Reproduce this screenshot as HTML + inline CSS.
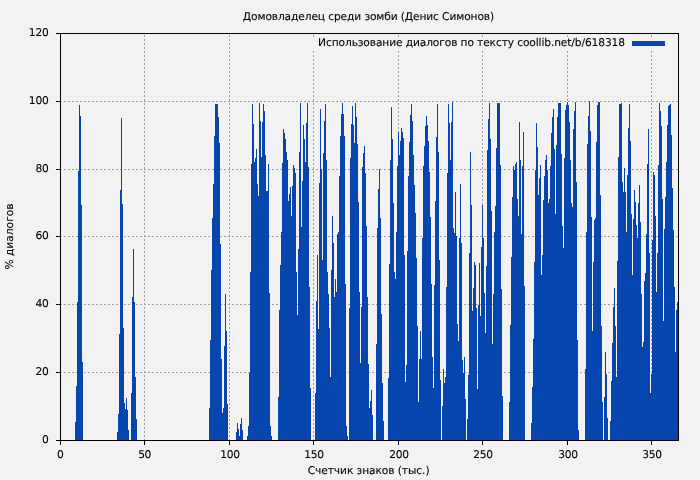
<!DOCTYPE html>
<html lang="ru"><head><meta charset="utf-8"><title>Домовладелец среди зомби (Денис Симонов)</title>
<style>
html,body{margin:0;padding:0;background:#f2f2f2;}
body{width:700px;height:480px;overflow:hidden;}
svg{display:block;}
text{font-family:"DejaVu Sans","Liberation Sans",sans-serif;font-size:10.67px;fill:#000;stroke:#000;stroke-width:0.1px;text-rendering:geometricPrecision;}
</style></head><body>
<svg width="700" height="480" viewBox="0 0 700 480">
<rect width="700" height="480" fill="#f2f2f2"/>
<g stroke="#a0a0a0" stroke-width="1" stroke-dasharray="2 2" fill="none" shape-rendering="crispEdges"><line x1="144.5" y1="441" x2="144.5" y2="34"/><line x1="229.5" y1="441" x2="229.5" y2="34"/><line x1="313.5" y1="441" x2="313.5" y2="34"/><line x1="398.5" y1="441" x2="398.5" y2="34"/><line x1="482.5" y1="441" x2="482.5" y2="34"/><line x1="567.5" y1="441" x2="567.5" y2="34"/><line x1="651.5" y1="441" x2="651.5" y2="34"/><line x1="60" y1="372.5" x2="678" y2="372.5"/><line x1="60" y1="304.5" x2="678" y2="304.5"/><line x1="60" y1="236.5" x2="678" y2="236.5"/><line x1="60" y1="169.5" x2="678" y2="169.5"/><line x1="60" y1="101.5" x2="678" y2="101.5"/></g>
<rect x="312" y="38" width="362" height="13" fill="#f2f2f2"/>
<path fill="#0645ad" shape-rendering="crispEdges" d="M75 440V422h1V440zM76 440V386h1V440zM77 440V302h1V440zM78 440V171h1V440zM79 440V105h1V440zM80 440V116h1V440zM81 440V205h1V440zM82 440V362h1V440zM117 440V432h1V440zM118 440V414h1V440zM119 440V334h1V440zM120 440V190h1V440zM121 440V118h1V440zM122 440V204h1V440zM123 440V328h1V440zM124 440V403h1V440zM125 440V409h1V440zM126 440V398h1V440zM127 440V410h1V440zM128 440V430h1V440zM131 440V393h1V440zM132 440V297h1V440zM133 440V249h1V440zM134 440V302h1V440zM135 440V377h1V440zM136 440V419h1V440zM209 440V408h1V440zM210 440V340h1V440zM211 440V270h1V440zM212 440V218h1V440zM213 440V184h1V440zM214 440V136h1V440zM215 440V104h1V440zM216 440V104h1V440zM217 440V104h1V440zM218 440V117h1V440zM219 440V143h1V440zM220 440V244h1V440zM221 440V359h1V440zM222 440V413h1V440zM223 440V408h1V440zM224 440V346h1V440zM225 440V294h1V440zM226 440V331h1V440zM227 440V404h1V440zM236 440V432h1V440zM237 440V423h1V440zM238 440V429h1V440zM239 440V436h1V440zM240 440V424h1V440zM241 440V418h1V440zM242 440V430h1V440zM247 440V436h1V440zM248 440V426h1V440zM249 440V373h1V440zM250 440V272h1V440zM251 440V164h1V440zM252 440V104h1V440zM253 440V124h1V440zM254 440V162h1V440zM255 440V158h1V440zM256 440V149h1V440zM257 440V184h1V440zM258 440V196h1V440zM259 440V103h1V440zM260 440V121h1V440zM261 440V157h1V440zM262 440V122h1V440zM263 440V104h1V440zM264 440V111h1V440zM265 440V155h1V440zM266 440V191h1V440zM267 440V191h1V440zM268 440V164h1V440zM269 440V293h1V440zM270 440V426h1V440zM271 440V436h1V440zM278 440V397h1V440zM279 440V310h1V440zM280 440V265h1V440zM281 440V232h1V440zM282 440V163h1V440zM283 440V129h1V440zM284 440V133h1V440zM285 440V139h1V440zM286 440V152h1V440zM287 440V160h1V440zM288 440V201h1V440zM289 440V194h1V440zM290 440V187h1V440zM291 440V216h1V440zM292 440V186h1V440zM293 440V165h1V440zM294 440V168h1V440zM295 440V173h1V440zM296 440V272h1V440zM297 440V315h1V440zM298 440V249h1V440zM299 440V152h1V440zM300 440V103h1V440zM301 440V227h1V440zM302 440V181h1V440zM303 440V125h1V440zM304 440V139h1V440zM305 440V162h1V440zM306 440V123h1V440zM307 440V103h1V440zM308 440V167h1V440zM309 440V287h1V440zM310 440V388h1V440zM315 440V393h1V440zM316 440V301h1V440zM317 440V255h1V440zM318 440V329h1V440zM319 440V183h1V440zM320 440V109h1V440zM321 440V169h1V440zM322 440V260h1V440zM323 440V153h1V440zM324 440V121h1V440zM325 440V104h1V440zM326 440V160h1V440zM327 440V272h1V440zM328 440V294h1V440zM329 440V328h1V440zM330 440V377h1V440zM331 440V270h1V440zM332 440V216h1V440zM333 440V243h1V440zM334 440V297h1V440zM335 440V279h1V440zM336 440V292h1V440zM337 440V234h1V440zM338 440V232h1V440zM339 440V176h1V440zM340 440V136h1V440zM341 440V114h1V440zM342 440V103h1V440zM343 440V114h1V440zM344 440V136h1V440zM345 440V284h1V440zM346 440V426h1V440zM347 440V436h1V440zM349 440V308h1V440zM350 440V158h1V440zM351 440V124h1V440zM352 440V106h1V440zM353 440V125h1V440zM354 440V143h1V440zM355 440V103h1V440zM356 440V117h1V440zM357 440V144h1V440zM358 440V202h1V440zM359 440V292h1V440zM360 440V363h1V440zM361 440V307h1V440zM362 440V167h1V440zM363 440V153h1V440zM364 440V146h1V440zM365 440V173h1V440zM366 440V226h1V440zM367 440V297h1V440zM368 440V364h1V440zM369 440V408h1V440zM370 440V401h1V440zM371 440V390h1V440zM372 440V415h1V440zM376 440V344h1V440zM377 440V228h1V440zM378 440V189h1V440zM379 440V169h1V440zM380 440V218h1V440zM381 440V314h1V440zM382 440V383h1V440zM383 440V421h1V440zM388 440V378h1V440zM389 440V264h1V440zM390 440V160h1V440zM391 440V107h1V440zM392 440V139h1V440zM393 440V203h1V440zM394 440V272h1V440zM395 440V279h1V440zM396 440V232h1V440zM397 440V166h1V440zM398 440V132h1V440zM399 440V155h1V440zM400 440V141h1V440zM401 440V128h1V440zM402 440V132h1V440zM403 440V138h1V440zM404 440V255h1V440zM405 440V382h1V440zM406 440V365h1V440zM407 440V251h1V440zM408 440V176h1V440zM409 440V142h1V440zM410 440V115h1V440zM411 440V104h1V440zM412 440V121h1V440zM413 440V155h1V440zM414 440V185h1V440zM415 440V213h1V440zM416 440V258h1V440zM417 440V326h1V440zM418 440V402h1V440zM419 440V359h1V440zM420 440V331h1V440zM421 440V359h1V440zM422 440V238h1V440zM423 440V166h1V440zM424 440V146h1V440zM425 440V126h1V440zM426 440V116h1V440zM427 440V125h1V440zM428 440V141h1V440zM429 440V172h1V440zM430 440V217h1V440zM431 440V284h1V440zM432 440V357h1V440zM433 440V388h1V440zM434 440V285h1V440zM435 440V201h1V440zM436 440V137h1V440zM437 440V104h1V440zM438 440V152h1V440zM439 440V260h1V440zM440 440V380h1V440zM442 440V406h1V440zM443 440V369h1V440zM444 440V383h1V440zM445 440V377h1V440zM446 440V287h1V440zM447 440V173h1V440zM448 440V104h1V440zM449 440V123h1V440zM450 440V160h1V440zM451 440V122h1V440zM452 440V102h1V440zM453 440V228h1V440zM454 440V233h1V440zM455 440V192h1V440zM456 440V236h1V440zM457 440V324h1V440zM458 440V341h1V440zM459 440V238h1V440zM460 440V184h1V440zM461 440V243h1V440zM462 440V360h1V440zM463 440V373h1V440zM464 440V357h1V440zM465 440V399h1V440zM467 440V419h1V440zM468 440V375h1V440zM469 440V253h1V440zM470 440V152h1V440zM471 440V205h1V440zM472 440V311h1V440zM473 440V288h1V440zM474 440V262h1V440zM475 440V265h1V440zM476 440V308h1V440zM477 440V389h1V440zM478 440V305h1V440zM479 440V263h1V440zM480 440V316h1V440zM481 440V247h1V440zM482 440V205h1V440zM483 440V238h1V440zM484 440V293h1V440zM485 440V333h1V440zM486 440V266h1V440zM487 440V150h1V440zM488 440V119h1V440zM489 440V103h1V440zM490 440V139h1V440zM491 440V211h1V440zM492 440V344h1V440zM493 440V294h1V440zM494 440V232h1V440zM495 440V206h1V440zM496 440V148h1V440zM497 440V103h1V440zM498 440V103h1V440zM499 440V103h1V440zM500 440V165h1V440zM501 440V289h1V440zM502 440V396h1V440zM509 440V402h1V440zM510 440V325h1V440zM511 440V257h1V440zM512 440V197h1V440zM513 440V166h1V440zM514 440V170h1V440zM515 440V164h1V440zM516 440V162h1V440zM517 440V199h1V440zM518 440V216h1V440zM519 440V122h1V440zM520 440V160h1V440zM521 440V234h1V440zM522 440V166h1V440zM523 440V132h1V440zM524 440V286h1V440zM531 440V423h1V440zM532 440V387h1V440zM533 440V339h1V440zM534 440V262h1V440zM535 440V170h1V440zM536 440V123h1V440zM537 440V147h1V440zM538 440V195h1V440zM539 440V178h1V440zM540 440V165h1V440zM541 440V275h1V440zM542 440V255h1V440zM543 440V200h1V440zM544 440V176h1V440zM545 440V160h1V440zM546 440V155h1V440zM547 440V170h1V440zM548 440V203h1V440zM549 440V199h1V440zM550 440V166h1V440zM551 440V133h1V440zM552 440V117h1V440zM553 440V109h1V440zM554 440V149h1V440zM555 440V214h1V440zM556 440V145h1V440zM557 440V117h1V440zM558 440V103h1V440zM559 440V103h1V440zM560 440V103h1V440zM561 440V154h1V440zM562 440V226h1V440zM563 440V248h1V440zM564 440V158h1V440zM565 440V110h1V440zM566 440V105h1V440zM567 440V102h1V440zM568 440V105h1V440zM569 440V122h1V440zM570 440V160h1V440zM571 440V203h1V440zM572 440V207h1V440zM573 440V129h1V440zM574 440V111h1V440zM575 440V102h1V440zM576 440V182h1V440zM577 440V340h1V440zM578 440V430h1V440zM585 440V369h1V440zM586 440V232h1V440zM587 440V144h1V440zM588 440V116h1V440zM589 440V101h1V440zM590 440V131h1V440zM591 440V217h1V440zM592 440V331h1V440zM593 440V262h1V440zM594 440V220h1V440zM595 440V218h1V440zM596 440V142h1V440zM597 440V105h1V440zM598 440V102h1V440zM599 440V102h1V440zM600 440V195h1V440zM601 440V326h1V440zM602 440V402h1V440zM604 440V397h1V440zM605 440V352h1V440zM606 440V374h1V440zM607 440V418h1V440zM610 440V421h1V440zM611 440V381h1V440zM612 440V343h1V440zM613 440V307h1V440zM614 440V288h1V440zM615 440V326h1V440zM616 440V377h1V440zM617 440V261h1V440zM618 440V157h1V440zM619 440V104h1V440zM620 440V104h1V440zM621 440V103h1V440zM622 440V182h1V440zM623 440V192h1V440zM624 440V168h1V440zM625 440V192h1V440zM626 440V232h1V440zM627 440V175h1V440zM628 440V128h1V440zM629 440V104h1V440zM630 440V141h1V440zM631 440V214h1V440zM632 440V275h1V440zM633 440V219h1V440zM634 440V190h1V440zM635 440V202h1V440zM636 440V225h1V440zM637 440V238h1V440zM638 440V203h1V440zM639 440V185h1V440zM640 440V222h1V440zM641 440V294h1V440zM642 440V347h1V440zM643 440V342h1V440zM644 440V281h1V440zM645 440V273h1V440zM646 440V234h1V440zM647 440V164h1V440zM648 440V129h1V440zM649 440V253h1V440zM650 440V393h1V440zM651 440V374h1V440zM652 440V240h1V440zM653 440V172h1V440zM654 440V175h1V440zM655 440V216h1V440zM656 440V292h1V440zM657 440V253h1V440zM658 440V165h1V440zM659 440V103h1V440zM660 440V111h1V440zM661 440V126h1V440zM662 440V199h1V440zM663 440V321h1V440zM664 440V229h1V440zM665 440V197h1V440zM666 440V162h1V440zM667 440V125h1V440zM668 440V106h1V440zM669 440V105h1V440zM670 440V104h1V440zM671 440V135h1V440zM672 440V188h1V440zM673 440V230h1V440zM674 440V287h1V440zM675 440V352h1V440zM676 440V310h1V440zM677 440V302h1V440z"/>
<rect x="632" y="41" width="33" height="5" fill="#0645ad"/>
<g fill="#000" shape-rendering="crispEdges">
<rect x="60" y="33" width="619" height="1"/>
<rect x="60" y="440" width="619" height="1"/>
<rect x="60" y="33" width="1" height="408"/>
<rect x="678" y="33" width="1" height="408"/>
<rect x="60" y="440" width="1" height="5"/><rect x="144" y="440" width="1" height="5"/><rect x="229" y="440" width="1" height="5"/><rect x="313" y="440" width="1" height="5"/><rect x="398" y="440" width="1" height="5"/><rect x="482" y="440" width="1" height="5"/><rect x="567" y="440" width="1" height="5"/><rect x="651" y="440" width="1" height="5"/><rect x="56" y="440" width="5" height="1"/><rect x="56" y="372" width="5" height="1"/><rect x="56" y="304" width="5" height="1"/><rect x="56" y="236" width="5" height="1"/><rect x="56" y="169" width="5" height="1"/><rect x="56" y="101" width="5" height="1"/><rect x="56" y="33" width="5" height="1"/>
</g>
<text x="368.5" y="20" text-anchor="middle" textLength="251.3">Домовладелец среди зомби (Денис Симонов)</text>
<text x="625" y="46.2" text-anchor="end" textLength="306.9">Использование диалогов по тексту coollib.net/b/618318</text>
<text x="368.6" y="474" text-anchor="middle" textLength="121.9">Счетчик знаков (тыс.)</text>
<text transform="translate(12.6,236.5) rotate(-90)" text-anchor="middle">% диалогов</text>
<text x="60.5" y="458" text-anchor="middle" textLength="6.78">0</text><text x="144.8" y="458" text-anchor="middle" textLength="13.21">50</text><text x="230.1" y="458" text-anchor="middle" textLength="19.64">100</text><text x="314.1" y="458" text-anchor="middle" textLength="19.64">150</text><text x="399.1" y="458" text-anchor="middle" textLength="19.64">200</text><text x="483.1" y="458" text-anchor="middle" textLength="19.64">250</text><text x="568.1" y="458" text-anchor="middle" textLength="19.64">300</text><text x="652.1" y="458" text-anchor="middle" textLength="19.64">350</text><text x="48.8" y="442.7" text-anchor="end" textLength="6.78">0</text><text x="48.8" y="374.7" text-anchor="end" textLength="13.41">20</text><text x="48.8" y="306.7" text-anchor="end" textLength="13.41">40</text><text x="48.8" y="238.7" text-anchor="end" textLength="13.41">60</text><text x="48.8" y="171.7" text-anchor="end" textLength="13.41">80</text><text x="48.8" y="103.7" text-anchor="end" textLength="20.04">100</text><text x="48.8" y="35.7" text-anchor="end" textLength="20.04">120</text>
</svg>
</body></html>
